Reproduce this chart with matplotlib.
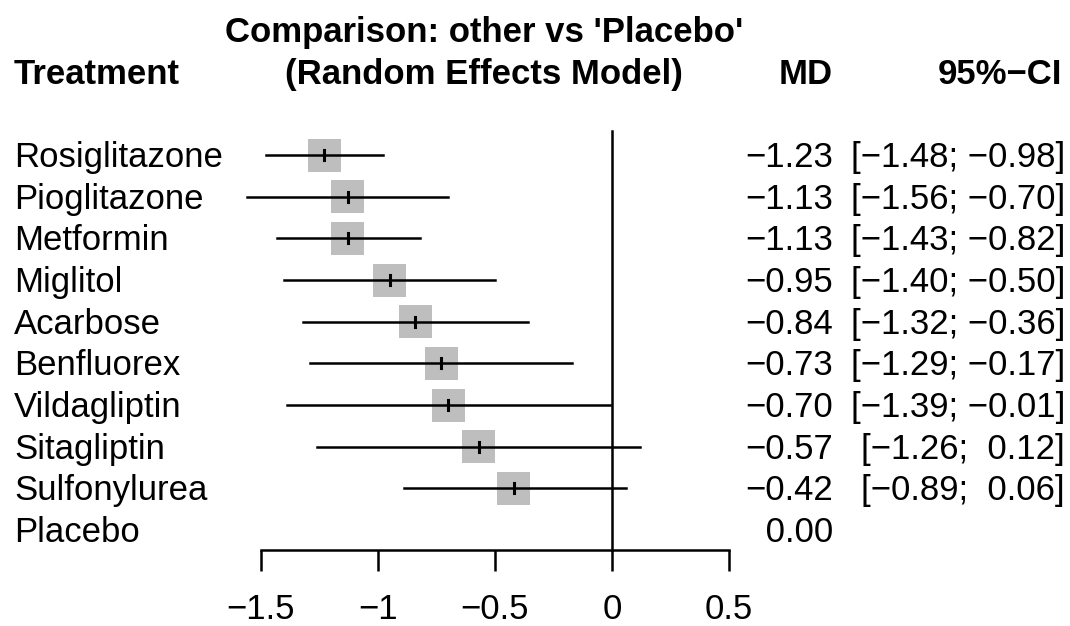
import matplotlib
matplotlib.use("Agg")
import matplotlib.pyplot as plt
from matplotlib.patches import Rectangle

plt.rcParams['font.family'] = ['Liberation Sans', 'DejaVu Sans']

# --- datos ---
treatments = ['Rosiglitazone', 'Pioglitazone', 'Metformin', 'Miglitol', 'Acarbose',
              'Benfluorex', 'Vildagliptin', 'Sitagliptin', 'Sulfonylurea', 'Placebo']
md = [-1.23, -1.13, -1.13, -0.95, -0.84, -0.73, -0.70, -0.57, -0.42, 0.00]
lower = [-1.48, -1.56, -1.43, -1.40, -1.32, -1.29, -1.39, -1.26, -0.89, None]
upper = [-0.98, -0.70, -0.82, -0.50, -0.36, -0.17, -0.01, 0.12, 0.06, None]
xticks = [-1.5, -1, -0.5, 0, 0.5]
xtick_labels = ['\u22121.5', '\u22121', '\u22120.5', '0', '0.5']


def fmt(v):
    return f"{v:5.2f}".replace('-', '\u2212')


W, H = 1070, 626
fig = plt.figure(figsize=(W / 100, H / 100), dpi=100)
ax = fig.add_axes([0, 0, 1, 1])

# escala: 234 px por unidad, -1.5 en x=261 px; filas cada 41.67 px desde y=155
px_unit = 234.0
row_h = 41.67
x_left = -1.5 - 261 / px_unit
x_right = 0.5 + (W - 729) / px_unit
ax.set_xlim(x_left, x_right)
ax.set_ylim((H - 155) / row_h, -155 / row_h)

for s in ['top', 'right', 'left']:
    ax.spines[s].set_visible(False)
axis_y = (550 - 155) / row_h
ax.spines['bottom'].set_position(('data', axis_y))
ax.spines['bottom'].set_bounds(-1.5, 0.5)
ax.spines['bottom'].set_linewidth(1.8)
ax.set_yticks([])
ax.set_xticks(xticks)
ax.set_xticklabels(xtick_labels)
ax.tick_params(axis='x', direction='out', length=15, width=1.8, pad=16, labelsize=25)

# linea vertical en 0
ax.plot([0, 0], [(131 - 155) / row_h, axis_y], color='black', lw=1.8, zorder=3)

box_w = 33 / px_unit
box_h = 33 / row_h
fs = 25
tr = ax.get_yaxis_transform()
base = 12 / row_h

for i, name in enumerate(treatments):
    ax.text(14 / W, i + base, name, transform=tr, fontsize=fs, va='baseline', ha='left')
    ax.text(833 / W, i + base, fmt(md[i]), transform=tr, fontsize=fs, va='baseline', ha='right')
    if lower[i] is None:
        continue
    ax.add_patch(Rectangle((md[i] - box_w / 2, i - box_h / 2), box_w, box_h,
                           facecolor='#BEBEBE', edgecolor='none', zorder=2))
    ax.plot([lower[i], upper[i]], [i, i], color='black', lw=1.8, zorder=4)
    ax.plot([md[i], md[i]], [i - 0.12, i + 0.12], color='black', lw=2.2, zorder=5)
    ci = f"[{fmt(lower[i])}; {fmt(upper[i])}]"
    ax.text(1065 / W, i + base, ci, transform=tr, fontsize=fs, va='baseline', ha='right')

# cabeceras
hy = (72 - 155) / row_h
ax.text(14 / W, hy + base, 'Treatment', transform=tr, fontsize=fs, fontweight='bold',
        va='baseline', ha='left')
ax.text(484 / W, (30 - 155) / row_h + base, "Comparison: other vs 'Placebo'", transform=tr,
        fontsize=fs, fontweight='bold', va='baseline', ha='center')
ax.text(484 / W, hy + base, '(Random Effects Model)', transform=tr,
        fontsize=fs, fontweight='bold', va='baseline', ha='center')
ax.text(833 / W, hy + base, 'MD', transform=tr, fontsize=fs, fontweight='bold',
        va='baseline', ha='right')
ax.text(1062 / W, hy + base, '95%\u2212CI', transform=tr, fontsize=fs, fontweight='bold',
        va='baseline', ha='right')

fig.savefig('out.png', dpi=100)
